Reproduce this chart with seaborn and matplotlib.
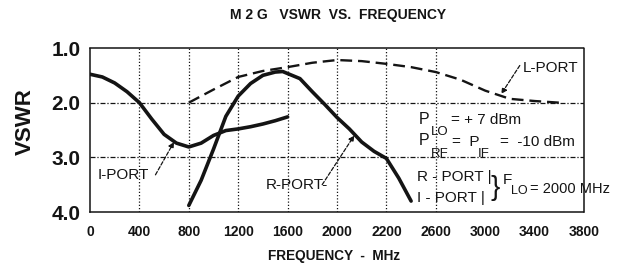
import matplotlib
matplotlib.use("Agg")
import matplotlib.pyplot as plt
import seaborn as sns
import pandas as pd

# VSWR readings taken off the datasheet curve (frequency in MHz)
i_port_freq = [0, 100, 200, 300, 400, 500, 600, 700, 800, 900, 1000, 1100,
               1200, 1300, 1400, 1500, 1600]
i_port_vswr = [1.48, 1.53, 1.64, 1.80, 2.00, 2.30, 2.58, 2.74, 2.81, 2.74,
               2.60, 2.51, 2.48, 2.44, 2.39, 2.33, 2.26]

r_port_freq = [800, 900, 1000, 1100, 1200, 1300, 1400, 1500, 1560, 1700,
               1800, 1900, 2000, 2100, 2200, 2300, 2400, 2500, 2600]
r_port_vswr = [3.88, 3.42, 2.85, 2.25, 1.88, 1.65, 1.50, 1.44, 1.43, 1.56,
               1.80, 2.03, 2.27, 2.48, 2.72, 2.89, 3.02, 3.38, 3.80]

l_port_freq = [800, 900, 1000, 1200, 1400, 1600, 1800, 2000, 2200, 2400,
               2600, 2800, 3000, 3200, 3400, 3600, 3800]
l_port_vswr = [2.00, 1.88, 1.76, 1.53, 1.42, 1.35, 1.27, 1.22, 1.24, 1.29,
               1.35, 1.44, 1.58, 1.78, 1.93, 1.97, 2.00]

# tick labels copied as printed on the sheet
x_ticks = [0, 400, 800, 1200, 1600, 2000, 2400, 2800, 3200, 3600, 4000]
x_tick_labels = ["0", "400", "800", "1200", "1600", "2000", "2200", "2600",
                 "3000", "3400", "3800"]
y_ticks = [1.0, 2.0, 3.0, 4.0]
y_tick_labels = ["1.0", "2.0", "3.0", "4.0"]
v_grid = [400, 800, 1200, 1600, 2000, 2400, 2800]
h_grid = [2.0, 3.0]

sns.set_theme(style="white")
plt.rcParams["font.family"] = ["Liberation Sans", "DejaVu Sans"]
ink = "#141414"

fig = plt.figure(figsize=(6.18, 2.70), dpi=100)
ax = fig.add_axes([90 / 618, 1 - 212 / 270, 494 / 618, 164 / 270])

for g in v_grid:
    ax.axvline(g, color=ink, lw=0.9, ls=(0, (1, 1.6)), zorder=1)
for g in h_grid:
    ax.axhline(g, color=ink, lw=0.9, ls=(0, (4, 1.5, 1, 1.5)), zorder=1)

i_df = pd.DataFrame({"freq": i_port_freq, "vswr": i_port_vswr})
r_df = pd.DataFrame({"freq": r_port_freq, "vswr": r_port_vswr})
l_df = pd.DataFrame({"freq": l_port_freq, "vswr": l_port_vswr})

sns.lineplot(data=i_df, x="freq", y="vswr", ax=ax, color=ink, lw=2.6,
             sort=False, estimator=None, zorder=3)
sns.lineplot(data=r_df, x="freq", y="vswr", ax=ax, color=ink, lw=2.6,
             sort=False, estimator=None, zorder=3)
sns.lineplot(data=l_df, x="freq", y="vswr", ax=ax, color=ink, lw=1.7,
             ls=(0, (5, 2.5)), sort=False, estimator=None, zorder=3)

ax.set_xlim(0, 4000)
ax.set_ylim(4.0, 1.0)
ax.set_xticks(x_ticks)
ax.set_xticklabels(x_tick_labels, fontsize=10, fontweight="bold")
ax.set_yticks(y_ticks)
ax.set_yticklabels(y_tick_labels, fontsize=15, fontweight="bold")
ax.tick_params(axis="x", length=0, pad=9, colors=ink)
ax.tick_params(axis="y", length=3, direction="in", pad=7, colors=ink)
ax.set_xlabel("")
ax.set_ylabel("")
for s in ax.spines.values():
    s.set_color(ink)
    s.set_linewidth(1.1)
    s.set_linestyle((0, (2, 1)))

# port labels with pointer arrows
arrow = dict(arrowstyle="-|>", color=ink, lw=0.9, ls=(0, (3, 1.5)),
             mutation_scale=8, shrinkA=0, shrinkB=0)
ax.text(60, 3.32, "I-PORT", fontsize=11, color=ink, ha="left", va="center")
ax.annotate("", xy=(680, 2.72), xytext=(530, 3.32), arrowprops=arrow)
ax.text(1420, 3.50, "R-PORT-", fontsize=11, color=ink, ha="left",
        va="center")
ax.annotate("", xy=(2140, 2.60), xytext=(1880, 3.50), arrowprops=arrow)
ax.text(3500, 1.36, "L-PORT", fontsize=11, color=ink, ha="left",
        va="center")
ax.annotate("", xy=(3330, 1.84), xytext=(3480, 1.32), arrowprops=arrow)

# operating conditions block
txt = dict(color=ink, va="center", ha="left")
ax.text(2660, 2.30, "P", fontsize=11.5, **txt)
ax.text(2760, 2.54, "LO", fontsize=9.5, **txt)
ax.text(2920, 2.32, "= + 7 dBm", fontsize=11, **txt)
ax.text(2660, 2.70, "P", fontsize=11.5, **txt)
ax.text(2760, 2.94, "RF", fontsize=9.5, **txt)
ax.text(2930, 2.72, "=  P", fontsize=11, **txt)
ax.text(3140, 2.94, "IF", fontsize=9.5, **txt)
ax.text(3320, 2.72, "=  -10 dBm", fontsize=11, **txt)
ax.text(2650, 3.36, "R - PORT |", fontsize=11, **txt)
ax.text(2650, 3.74, "I - PORT |", fontsize=11, **txt)
ax.text(3240, 3.56, "}", fontsize=20, **txt)
ax.text(3340, 3.42, "F", fontsize=11, **txt)
ax.text(3410, 3.62, "LO", fontsize=9, **txt)
ax.text(3560, 3.58, "= 2000 MHz", fontsize=10.5, **txt)

fig.text(338 / 618, 1 - 15 / 270, "M 2 G   VSWR  VS.  FREQUENCY",
         fontsize=10, fontweight="bold", color=ink, ha="center",
         va="center")
fig.text(334 / 618, 1 - 256 / 270, "FREQUENCY  -  MHz", fontsize=9.8,
         fontweight="bold", color=ink, ha="center", va="center")
fig.text(25 / 618, 1 - 122 / 270, "VSWR", fontsize=16, fontweight="bold",
         rotation=90, color=ink, ha="center", va="center")

fig.savefig("out.png", dpi=100)
